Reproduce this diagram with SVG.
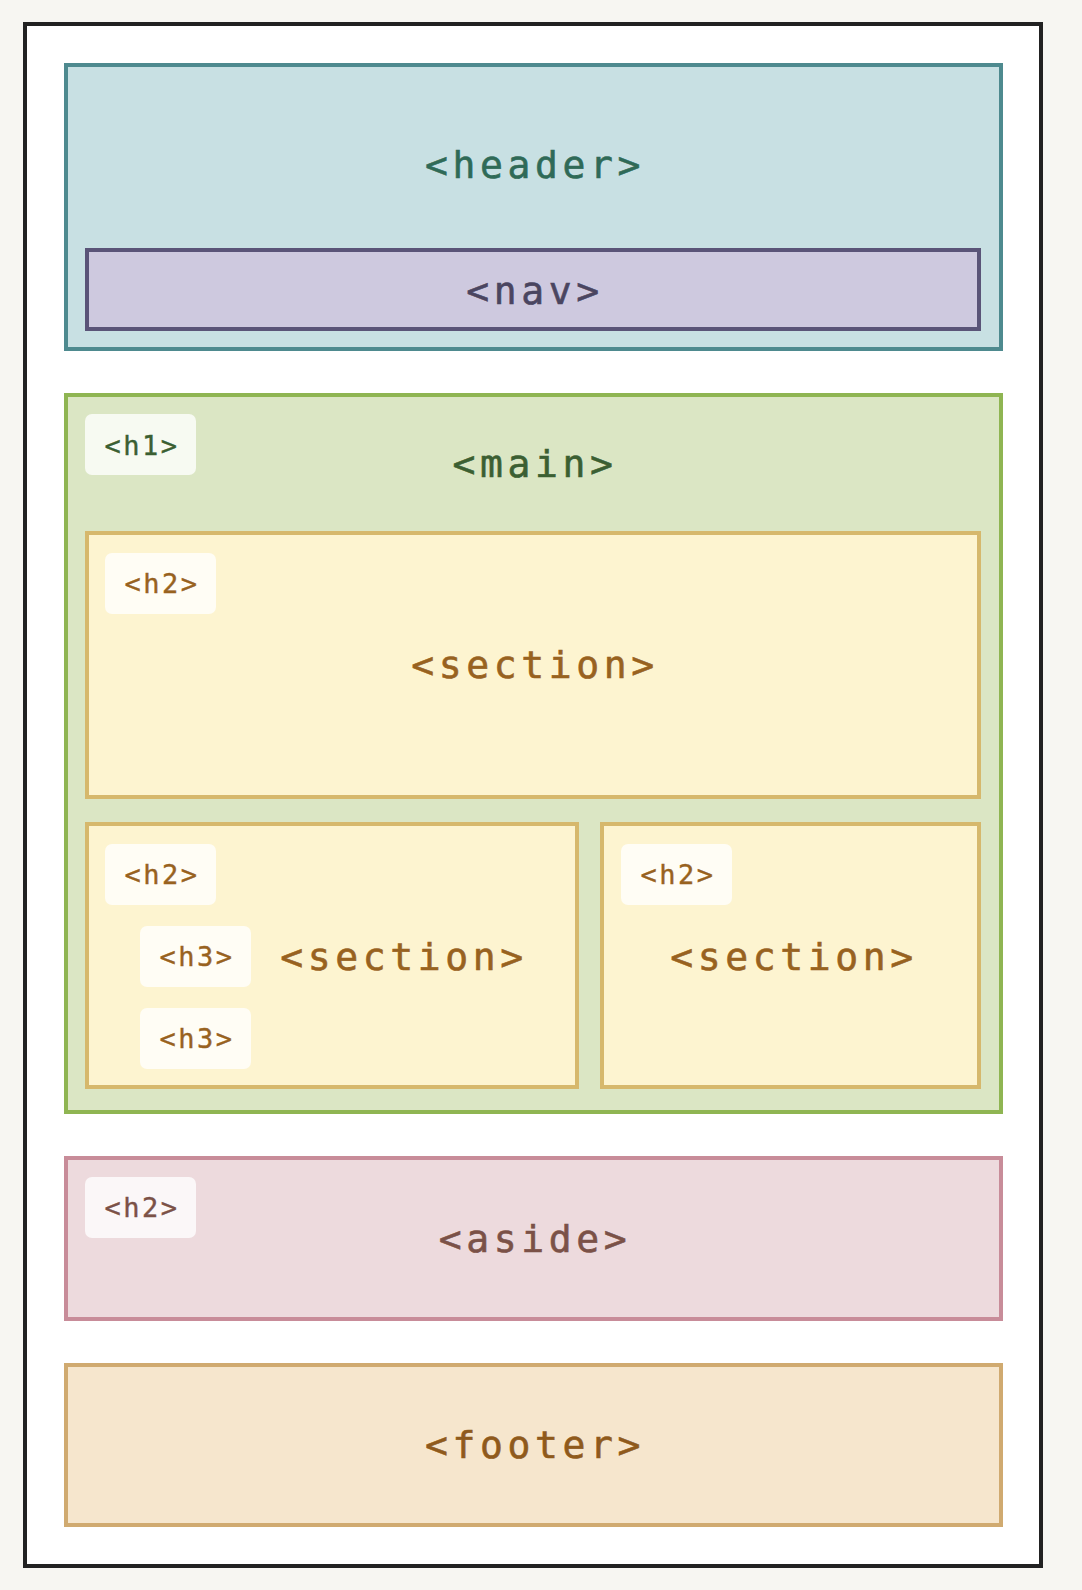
<svg xmlns="http://www.w3.org/2000/svg" width="1082" height="1590" viewBox="0 0 1082 1590">
  <style>
    .box { stroke-width: 4; }
    .header { fill: #c8e0e3; stroke: #4e8a8f; }
    .nav { fill: #cec9df; stroke: #5a5478; }
    .main { fill: #dbe6c4; stroke: #8fb552; }
    .section { fill: #fdf4d0; stroke: #d6b86c; }
    .aside { fill: #eddadd; stroke: #c88c99; }
    .footer { fill: #f6e6cd; stroke: #d0aa70; }
    .badge { fill: #ffffff; fill-opacity: 0.78; }
    .label { font-family: "DejaVu Sans Mono", "Liberation Mono", monospace; font-size: 38px; letter-spacing: 4.6px; text-anchor: middle; stroke-width: 0.6px; }
    .small { font-family: "DejaVu Sans Mono", "Liberation Mono", monospace; font-size: 27px; letter-spacing: 2.5px; text-anchor: middle; stroke-width: 0.4px; }
    .t-header { fill: #2f6a57; stroke: #2f6a57; }
    .t-nav { fill: #4a4560; stroke: #4a4560; }
    .t-main { fill: #3b5f32; stroke: #3b5f32; }
    .t-section { fill: #98621f; stroke: #98621f; }
    .t-aside { fill: #7b5147; stroke: #7b5147; }
    .t-footer { fill: #8f5a1c; stroke: #8f5a1c; }
  </style>
  <rect x="0" y="0" width="1082" height="1590" fill="#f7f6f2"/>
  <rect id="page" x="25" y="24" width="1016" height="1542" fill="#ffffff" stroke="#222222" stroke-width="4"/>

  <g id="header">
    <rect class="box header" x="66" y="65" width="935" height="284"/>
    <text class="label t-header" x="535" y="178">&lt;header&gt;</text>
  </g>
  <g id="nav">
    <rect class="box nav" x="87" y="250" width="892" height="79"/>
    <text class="label t-nav" x="535" y="304">&lt;nav&gt;</text>
  </g>

  <g id="main">
    <rect class="box main" x="66" y="395" width="935" height="717"/>
    <text class="label t-main" x="535" y="477">&lt;main&gt;</text>
  </g>
  <g id="h1">
    <rect class="badge" x="85" y="414" width="111" height="61" rx="7"/>
    <text class="small t-main" x="142" y="455">&lt;h1&gt;</text>
  </g>

  <g id="section1">
    <rect class="box section" x="87" y="533" width="892" height="264"/>
    <text class="label t-section" x="535" y="678">&lt;section&gt;</text>
  </g>
  <g id="section1-h2">
    <rect class="badge" x="105" y="553" width="111" height="61" rx="7"/>
    <text class="small t-section" x="162" y="593">&lt;h2&gt;</text>
  </g>

  <g id="section2">
    <rect class="box section" x="87" y="824" width="490" height="263"/>
    <text class="label t-section" x="404" y="970">&lt;section&gt;</text>
  </g>
  <g id="section2-h2">
    <rect class="badge" x="105" y="844" width="111" height="61" rx="7"/>
    <text class="small t-section" x="162" y="884">&lt;h2&gt;</text>
  </g>
  <g id="section2-h3a">
    <rect class="badge" x="140" y="926" width="111" height="61" rx="7"/>
    <text class="small t-section" x="197" y="966">&lt;h3&gt;</text>
  </g>
  <g id="section2-h3b">
    <rect class="badge" x="140" y="1008" width="111" height="61" rx="7"/>
    <text class="small t-section" x="197" y="1048">&lt;h3&gt;</text>
  </g>

  <g id="section3">
    <rect class="box section" x="602" y="824" width="377" height="263"/>
    <text class="label t-section" x="794" y="970">&lt;section&gt;</text>
  </g>
  <g id="section3-h2">
    <rect class="badge" x="621" y="844" width="111" height="61" rx="7"/>
    <text class="small t-section" x="678" y="884">&lt;h2&gt;</text>
  </g>

  <g id="aside">
    <rect class="box aside" x="66" y="1158" width="935" height="161"/>
    <text class="label t-aside" x="535" y="1252">&lt;aside&gt;</text>
  </g>
  <g id="aside-h2">
    <rect class="badge" x="85" y="1177" width="111" height="61" rx="7"/>
    <text class="small t-aside" x="142" y="1217">&lt;h2&gt;</text>
  </g>

  <g id="footer">
    <rect class="box footer" x="66" y="1365" width="935" height="160"/>
    <text class="label t-footer" x="535" y="1458">&lt;footer&gt;</text>
  </g>

  <g id="connectors"></g>
</svg>
